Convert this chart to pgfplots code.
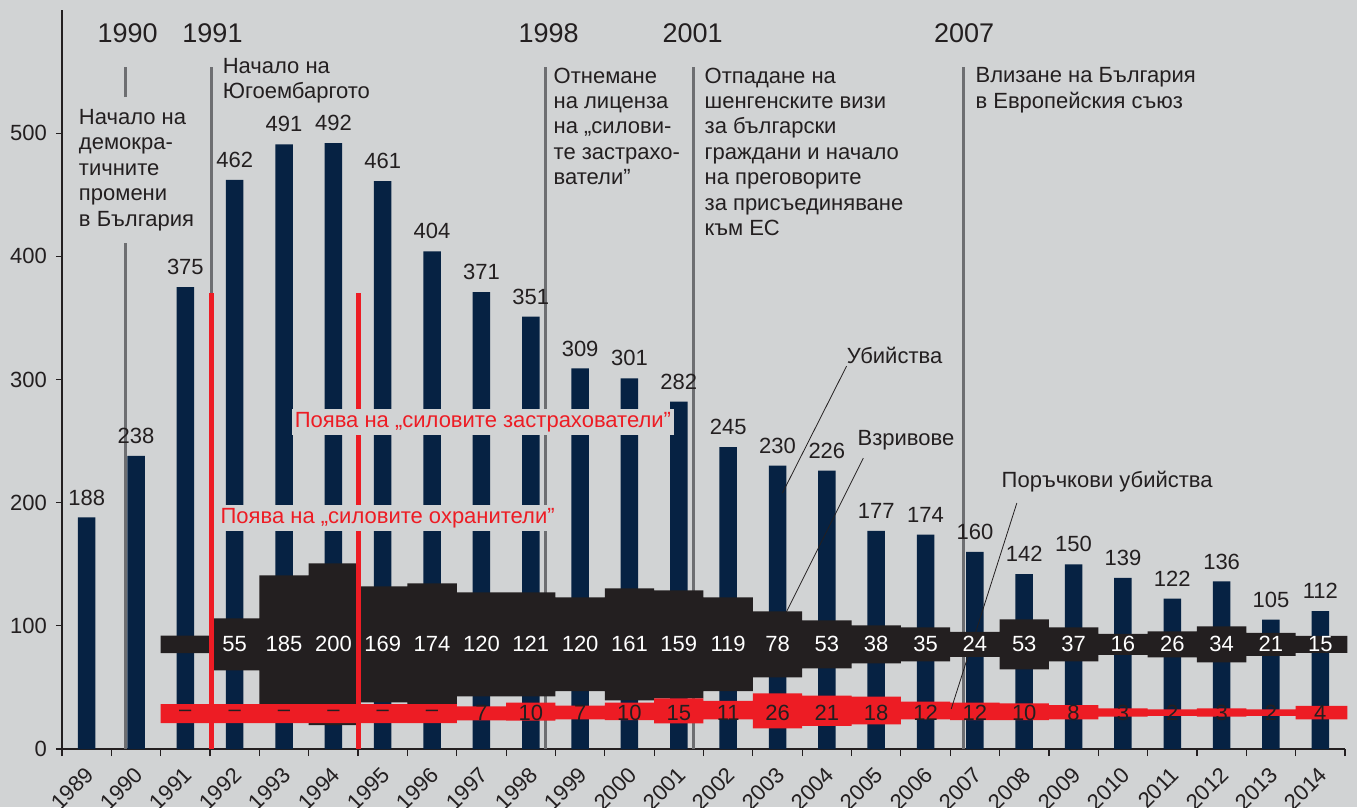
\documentclass[border=0pt]{standalone}
\usepackage{fontspec}
\setmainfont{Liberation Sans}
\usepackage{pgfplots}
\pgfplotsset{compat=1.18}
\definecolor{bg}{HTML}{D1D3D4}
\definecolor{navy}{HTML}{062243}
\definecolor{ink}{HTML}{231F20}
\definecolor{myred}{HTML}{ED1C24}
\definecolor{evgray}{HTML}{6D6E71}
\newcommand\fs{\fontsize{22}{25.4}\selectfont}
\newcommand\fy{\fontsize{27}{30}\selectfont}
\begin{document}
\begin{tikzpicture}[font=\fs]
\fill[bg] (-62pt,-58pt) rectangle (1295pt,749pt);
\begin{axis}[
  width=1283pt, height=739pt, scale only axis,
  xmin=-0.5, xmax=25.5, ymin=0, ymax=600,
  axis x line=bottom, axis y line=left,
  axis line style={-, line width=1.2pt, draw=ink},
  clip=false,
  /pgf/number format/assume math mode=true,
  ytick={0,100,200,300,400,500},
  xtick={0,...,25},
  xticklabels={1989,1990,1991,1992,1993,1994,1995,1996,1997,1998,1999,2000,2001,2002,2003,2004,2005,2006,2007,2008,2009,2010,2011,2012,2013,2014},
  tick label style={font=\fs, text=ink},
  xticklabel style={inner sep=0pt, xshift=3pt, yshift=-16pt, rotate=45, anchor=east},
  yticklabel style={inner sep=0pt, anchor=east, xshift=-9pt},
  tick align=outside,
  major tick length=6pt,
  xtick style={draw=none},
  ytick style={draw=ink, line width=1.2pt},
  extra x ticks={-0.5,0.5,...,25.5},
  extra x tick labels={},
  extra x tick style={xtick style={draw=ink, line width=1.2pt}, major tick length=7pt},
]
% bars: all killings
\addplot[ybar, bar width=17.5pt, fill=navy, draw=none,
  nodes near coords,
  nodes near coords style={font=\fs, text=ink, anchor=south, inner sep=0pt, yshift=12pt}]
  coordinates {(0,188) (1,238) (2,375) (3,462) (4,491) (5,492) (6,461) (7,404) (8,371) (9,351)
  (10,309) (11,301) (12,282) (13,245) (14,230) (15,226) (16,177) (17,174) (18,160) (19,142)
  (20,150) (21,139) (22,122) (23,136) (24,105) (25,112)};
% event lines
\addplot[evgray, line width=2.5pt] coordinates {(0.79,0) (0.79,410.7)};
\addplot[evgray, line width=2.5pt] coordinates {(0.79,529.2) (0.79,553.6)};
\addplot[evgray, line width=2.5pt] coordinates {(2.53,0) (2.53,553.6)};
\addplot[evgray, line width=2.5pt] coordinates {(9.30,0) (9.30,553.6)};
\addplot[evgray, line width=2.5pt] coordinates {(12.30,0) (12.30,553.6)};
\addplot[evgray, line width=2.5pt] coordinates {(17.77,0) (17.77,553.6)};
% explosions band (thickness ~ count)
\addplot[fill=ink, draw=none, const plot mark mid] coordinates {
  (1.5,92.0) (2,92.0) (3,106.1) (4,141.0) (5,150.7) (6,132.1) (7,134.5) (8,127.2) (9,127.2)
  (10,123.1) (11,130.5) (12,128.8) (13,123.1) (14,111.8) (15,104.5) (16,100.4) (17,98.8)
  (18,95.1) (19,105.3) (20,98.8) (21,93.5) (22,95.6) (23,99.6) (24,94.3) (25,91.9)
  (25.55,91.9) (25.55,78.1)
  (25,78.1) (24,75.7) (23,70.4) (22,74.4) (21,76.5) (20,71.2) (19,64.7) (18,74.9) (17,71.2)
  (16,69.6) (15,65.5) (14,58.2) (13,46.9) (12,41.2) (11,39.5) (10,46.9) (9,42.8) (8,42.8)
  (7,35.5) (6,37.9) (5,19.3) (4,29.0) (3,63.9) (2,77.8) (1.5,77.8)};
% contract killings band
\addplot[fill=myred, draw=none, const plot mark mid] coordinates {
  (1.5,36.4) (2,36.4) (3,36.4) (4,36.4) (5,36.4) (6,36.4) (7,36.4) (8,34.6) (9,37.6)
  (10,35.2) (11,37.6) (12,41.1) (13,39.0) (14,45.2) (15,43.3) (16,42.5) (17,38.4)
  (18,37.7) (19,37.1) (20,35.7) (21,33.0) (22,32.2) (23,33.0) (24,32.2) (25,35.0)
  (25.55,35.0) (25.55,24.1)
  (25,24.1) (24,26.8) (23,26.2) (22,26.8) (21,26.2) (20,24.1) (19,23.5) (18,23.5) (17,24.1)
  (16,20.0) (15,18.7) (14,16.8) (13,24.1) (12,20.9) (11,23.5) (10,24.0) (9,23.0) (8,23.2)
  (7,21.0) (6,21.0) (5,21.0) (4,21.0) (3,21.0) (2,21.0) (1.5,21.0)};
% red event lines
\addplot[myred, line width=4.5pt] coordinates {(2.53,0) (2.53,370)};
\addplot[myred, line width=4.5pt] coordinates {(5.51,0) (5.51,370)};
% band labels
\addplot[draw=none, mark=none, nodes near coords, point meta=explicit symbolic,
  nodes near coords style={font=\fs, text=white, anchor=center, inner sep=0pt}]
  coordinates {(3,85)[55] (4,85)[185] (5,85)[200] (6,85)[169] (7,85)[174] (8,85)[120]
  (9,85)[121] (10,85)[120] (11,85)[161] (12,85)[159] (13,85)[119] (14,85)[78] (15,85)[53]
  (16,85)[38] (17,85)[35] (18,85)[24] (19,85)[53] (20,85)[37] (21,85)[16] (22,85)[26]
  (23,85)[34] (24,85)[21] (25,85)[15]};
\addplot[draw=none, mark=none, nodes near coords, point meta=explicit symbolic,
  nodes near coords style={font=\fs, text=ink, anchor=center, inner sep=0pt}]
  coordinates {(2,29)[\textendash] (3,29)[\textendash] (4,29)[\textendash] (5,29)[\textendash]
  (6,29)[\textendash] (7,29)[\textendash] (8,29)[7] (9,29)[10] (10,29)[7] (11,29)[10]
  (12,29)[15] (13,29)[11] (14,29)[26] (15,29)[21] (16,29)[18] (17,29)[12] (18,29)[12]
  (19,29)[10] (20,29)[8] (21,29)[3] (22,29)[2] (23,29)[3] (24,29)[2] (25,29)[4]};
% red texts
\node[fill=bg, text=myred, inner sep=3pt] at (axis cs:8.03,265.4) {Поява на „силовите застрахователи”};
\node[fill=bg, text=myred, inner sep=3pt] at (axis cs:6.10,187.5) {Поява на „силовите охранители”};
% event years
\node[font=\fy, text=ink] at (axis cs:0.83,581) {1990};
\node[font=\fy, text=ink] at (axis cs:2.55,581) {1991};
\node[font=\fy, text=ink] at (axis cs:9.36,581) {1998};
\node[font=\fy, text=ink] at (axis cs:12.28,581) {2001};
\node[font=\fy, text=ink] at (axis cs:17.78,581) {2007};
% event texts
\node[anchor=north west, align=left, inner sep=0pt, text=ink] at (axis cs:-0.16,519.5) {Начало на\\демокра-\\тичните\\промени\\в България};
\node[anchor=north west, align=left, inner sep=0pt, text=ink] at (axis cs:2.755,561.3) {Начало на\\Югоембаргото};
\node[anchor=north west, align=left, inner sep=0pt, text=ink] at (axis cs:9.46,553.3) {Отнемане\\на лиценза\\на „силови-\\те застрахо-\\ватели”};
\node[anchor=north west, align=left, inner sep=0pt, text=ink] at (axis cs:12.52,553.3) {Отпадане на\\шенгенските визи\\за български\\граждани и начало\\на преговорите\\за присъединяване\\към ЕС};
\node[anchor=north west, align=left, inner sep=0pt, text=ink] at (axis cs:18.01,553.3) {Влизане на България\\в Европейския съюз};
% series labels with leaders
\node[anchor=west, inner sep=0pt, text=ink] at (axis cs:15.40,319.8) {Убийства};
\node[anchor=west, inner sep=0pt, text=ink] at (axis cs:15.62,250.8) {Взривове};
\node[anchor=west, inner sep=0pt, text=ink] at (axis cs:18.54,216.7) {Поръчкови убийства};
\draw[ink, line width=0.8pt] (axis cs:15.40,310.9) -- (axis cs:14.10,207.8);
\draw[ink, line width=0.8pt] (axis cs:15.74,236.2) -- (axis cs:14.18,111.2);
\draw[ink, line width=0.8pt] (axis cs:18.85,199.7) -- (axis cs:17.52,32.5);
\end{axis}
\pgfresetboundingbox
\path (-62pt,-58pt) rectangle (1295pt,749pt);
\end{tikzpicture}
\end{document}
